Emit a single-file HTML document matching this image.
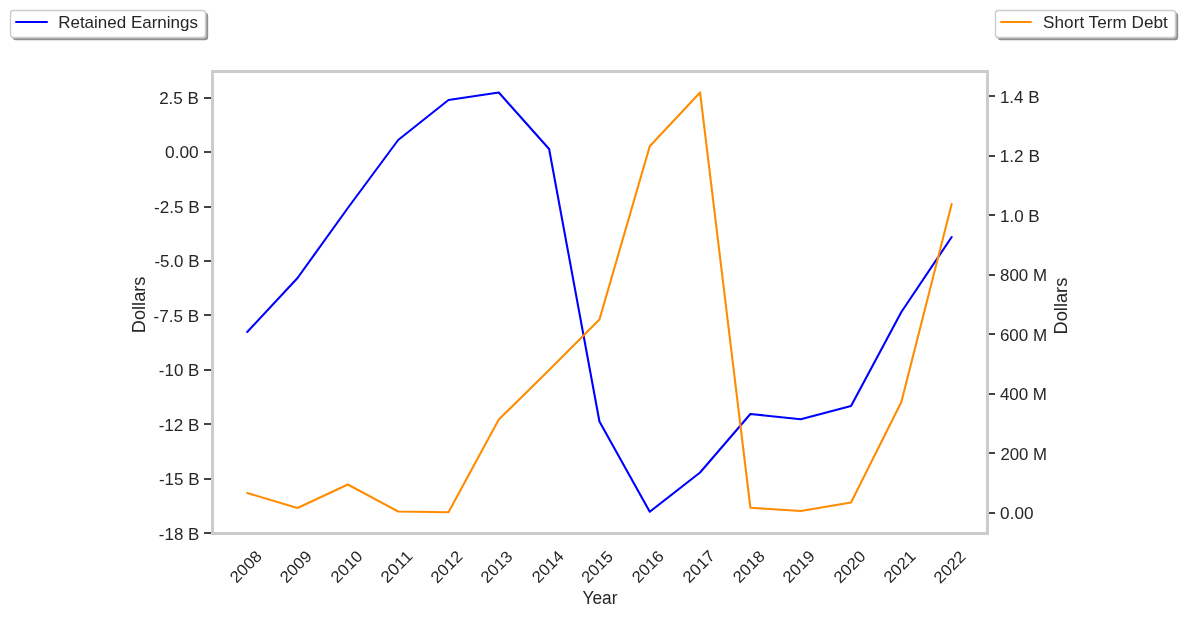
<!DOCTYPE html>
<html lang="en"><head><meta charset="utf-8"><title>Retained Earnings vs Short Term Debt</title>
<style>html,body{margin:0;padding:0;background:#fff}body{width:1184px;height:618px;overflow:hidden}svg{display:block}text{font-family:"Liberation Sans",sans-serif;fill:#262626}</style></head><body>
<svg width="1184" height="618" viewBox="0 0 1184 618">
<rect width="1184" height="618" fill="#fff"/>
<polyline fill="none" stroke="#0000ff" stroke-width="2.08" stroke-linejoin="round" stroke-linecap="round" points="247.20,332.00 297.52,278.00 347.84,208.00 398.16,140.00 448.48,100.00 498.80,92.50 549.12,149.00 599.44,421.50 649.76,511.75 700.08,472.50 750.40,414.00 800.72,419.25 851.04,406.00 901.36,312.00 951.68,237.00"/>
<polyline fill="none" stroke="#ff8c00" stroke-width="2.08" stroke-linejoin="round" stroke-linecap="round" points="247.20,493.00 297.52,508.00 347.84,484.50 398.16,511.50 448.48,512.25 498.80,419.50 549.12,370.00 599.44,319.50 649.76,146.25 700.08,92.50 750.40,507.75 800.72,511.00 851.04,502.50 901.36,402.00 951.68,204.00"/>
<g fill="#424242" shape-rendering="crispEdges">
<rect x="204" y="97" width="8" height="2"/>
<rect x="204" y="151" width="8" height="2"/>
<rect x="204" y="206" width="8" height="2"/>
<rect x="204" y="260" width="8" height="2"/>
<rect x="204" y="314" width="8" height="2"/>
<rect x="204" y="369" width="8" height="2"/>
<rect x="204" y="423" width="8" height="2"/>
<rect x="204" y="478" width="8" height="2"/>
<rect x="204" y="532" width="8" height="2"/>
<rect x="988" y="95" width="7" height="2"/>
<rect x="988" y="155" width="7" height="2"/>
<rect x="988" y="214" width="7" height="2"/>
<rect x="988" y="274" width="7" height="2"/>
<rect x="988" y="333" width="7" height="2"/>
<rect x="988" y="393" width="7" height="2"/>
<rect x="988" y="452" width="7" height="2"/>
<rect x="988" y="512" width="7" height="2"/>
</g>
<g fill="#cccccc" shape-rendering="crispEdges"><rect x="211" y="70" width="3" height="465"/><rect x="986" y="70" width="3" height="465"/><rect x="211" y="70" width="778" height="3"/><rect x="211" y="532" width="778" height="3"/></g>
<rect x="12.68" y="12.68" width="195.50" height="27.50" rx="3.2" ry="3.2" fill="#8f8f8f"/>
<rect x="11.50" y="11.50" width="195.50" height="27.50" rx="3.2" ry="3.2" fill="#a5a5a5"/>
<rect x="10.50" y="10.50" width="195.00" height="27.00" rx="3" ry="3" fill="#fff" stroke="#cccccc" stroke-width="1.39"/>
<line x1="16.00" y1="22" x2="47.00" y2="22" stroke="#0000ff" stroke-width="2" stroke-linecap="round"/>
<rect x="997.68" y="12.68" width="180.50" height="27.50" rx="3.2" ry="3.2" fill="#8f8f8f"/>
<rect x="996.50" y="11.50" width="180.50" height="27.50" rx="3.2" ry="3.2" fill="#a5a5a5"/>
<rect x="995.50" y="10.50" width="180.00" height="27.00" rx="3" ry="3" fill="#fff" stroke="#cccccc" stroke-width="1.39"/>
<line x1="1001.00" y1="22" x2="1031.00" y2="22" stroke="#ff8c00" stroke-width="2" stroke-linecap="round"/>
<g opacity="0.999">
<text x="159.17" y="104.07" font-size="16.19" textLength="39.73" lengthAdjust="spacingAndGlyphs" fill="#303030">2.5 B</text>
<text x="165.04" y="158.16" font-size="16.19" textLength="33.69" lengthAdjust="spacingAndGlyphs" fill="#303030">0.00</text>
<text x="154.01" y="212.87" font-size="16.19" textLength="45.65" lengthAdjust="spacingAndGlyphs" fill="#303030">-2.5 B</text>
<text x="154.41" y="266.81" font-size="16.19" textLength="45.09" lengthAdjust="spacingAndGlyphs" fill="#303030">-5.0 B</text>
<text x="153.54" y="321.74" font-size="16.19" textLength="45.61" lengthAdjust="spacingAndGlyphs" fill="#303030">-7.5 B</text>
<text x="158.88" y="376.08" font-size="16.19" textLength="40.45" lengthAdjust="spacingAndGlyphs" fill="#303030">-10 B</text>
<text x="158.65" y="431.39" font-size="16.19" textLength="40.82" lengthAdjust="spacingAndGlyphs" fill="#303030">-12 B</text>
<text x="158.93" y="484.69" font-size="16.19" textLength="40.57" lengthAdjust="spacingAndGlyphs" fill="#303030">-15 B</text>
<text x="158.85" y="539.72" font-size="16.19" textLength="40.43" lengthAdjust="spacingAndGlyphs" fill="#303030">-18 B</text>
<text x="999.91" y="103.36" font-size="16.19" textLength="39.58" lengthAdjust="spacingAndGlyphs" fill="#303030">1.4 B</text>
<text x="999.74" y="162.44" font-size="16.19" textLength="40.12" lengthAdjust="spacingAndGlyphs" fill="#303030">1.2 B</text>
<text x="999.96" y="222.34" font-size="16.19" textLength="39.80" lengthAdjust="spacingAndGlyphs" fill="#303030">1.0 B</text>
<text x="1000.10" y="281.02" font-size="16.19" textLength="46.91" lengthAdjust="spacingAndGlyphs" fill="#303030">800 M</text>
<text x="999.92" y="340.91" font-size="16.19" textLength="47.29" lengthAdjust="spacingAndGlyphs" fill="#303030">600 M</text>
<text x="999.90" y="399.91" font-size="16.19" textLength="47.09" lengthAdjust="spacingAndGlyphs" fill="#303030">400 M</text>
<text x="1000.44" y="460.14" font-size="16.19" textLength="46.63" lengthAdjust="spacingAndGlyphs" fill="#303030">200 M</text>
<text x="1000.14" y="519.43" font-size="16.19" textLength="33.40" lengthAdjust="spacingAndGlyphs" fill="#303030">0.00</text>
<text transform="translate(245.63 566.54) rotate(-45)" x="-18.64" y="5.67" font-size="16.19" textLength="37.29" lengthAdjust="spacingAndGlyphs">2008</text>
<text transform="translate(295.60 566.52) rotate(-45)" x="-18.69" y="5.67" font-size="16.19" textLength="37.38" lengthAdjust="spacingAndGlyphs">2009</text>
<text transform="translate(346.50 566.58) rotate(-45)" x="-18.65" y="5.67" font-size="16.19" textLength="37.29" lengthAdjust="spacingAndGlyphs">2010</text>
<text transform="translate(396.39 566.46) rotate(-45)" x="-18.78" y="5.67" font-size="16.19" textLength="37.56" lengthAdjust="spacingAndGlyphs">2011</text>
<text transform="translate(446.38 566.70) rotate(-45)" x="-18.66" y="5.67" font-size="16.19" textLength="37.32" lengthAdjust="spacingAndGlyphs">2012</text>
<text transform="translate(496.38 566.70) rotate(-45)" x="-18.53" y="5.67" font-size="16.19" textLength="37.06" lengthAdjust="spacingAndGlyphs">2013</text>
<text transform="translate(547.59 566.50) rotate(-45)" x="-18.68" y="5.67" font-size="16.19" textLength="37.36" lengthAdjust="spacingAndGlyphs">2014</text>
<text transform="translate(597.08 566.80) rotate(-45)" x="-18.42" y="5.67" font-size="16.19" textLength="36.85" lengthAdjust="spacingAndGlyphs">2015</text>
<text transform="translate(647.67 566.51) rotate(-45)" x="-18.62" y="5.67" font-size="16.19" textLength="37.24" lengthAdjust="spacingAndGlyphs">2016</text>
<text transform="translate(698.62 566.36) rotate(-45)" x="-18.89" y="5.67" font-size="16.19" textLength="37.79" lengthAdjust="spacingAndGlyphs">2017</text>
<text transform="translate(748.57 566.49) rotate(-45)" x="-18.68" y="5.67" font-size="16.19" textLength="37.36" lengthAdjust="spacingAndGlyphs">2018</text>
<text transform="translate(798.54 566.46) rotate(-45)" x="-18.71" y="5.67" font-size="16.19" textLength="37.42" lengthAdjust="spacingAndGlyphs">2019</text>
<text transform="translate(849.47 566.62) rotate(-45)" x="-18.74" y="5.67" font-size="16.19" textLength="37.47" lengthAdjust="spacingAndGlyphs">2020</text>
<text transform="translate(899.44 566.54) rotate(-45)" x="-18.80" y="5.67" font-size="16.19" textLength="37.60" lengthAdjust="spacingAndGlyphs">2021</text>
<text transform="translate(949.49 566.89) rotate(-45)" x="-18.71" y="5.67" font-size="16.19" textLength="37.41" lengthAdjust="spacingAndGlyphs">2022</text>
<text x="582.48" y="603.56" font-size="17.66" textLength="35.01" lengthAdjust="spacingAndGlyphs">Year</text>
<text transform="translate(144.75 304.91) rotate(-90)" x="-28.37" y="0" font-size="17.66" textLength="56.74" lengthAdjust="spacingAndGlyphs">Dollars</text>
<text transform="translate(1066.62 306.09) rotate(-90)" x="-28.43" y="0" font-size="17.66" textLength="56.86" lengthAdjust="spacingAndGlyphs">Dollars</text>
<text x="58.16" y="28.20" font-size="16.19" textLength="139.86" lengthAdjust="spacingAndGlyphs">Retained Earnings</text>
<text x="1043.13" y="27.77" font-size="16.19" textLength="124.65" lengthAdjust="spacingAndGlyphs">Short Term Debt</text>
</g>
</svg></body></html>
